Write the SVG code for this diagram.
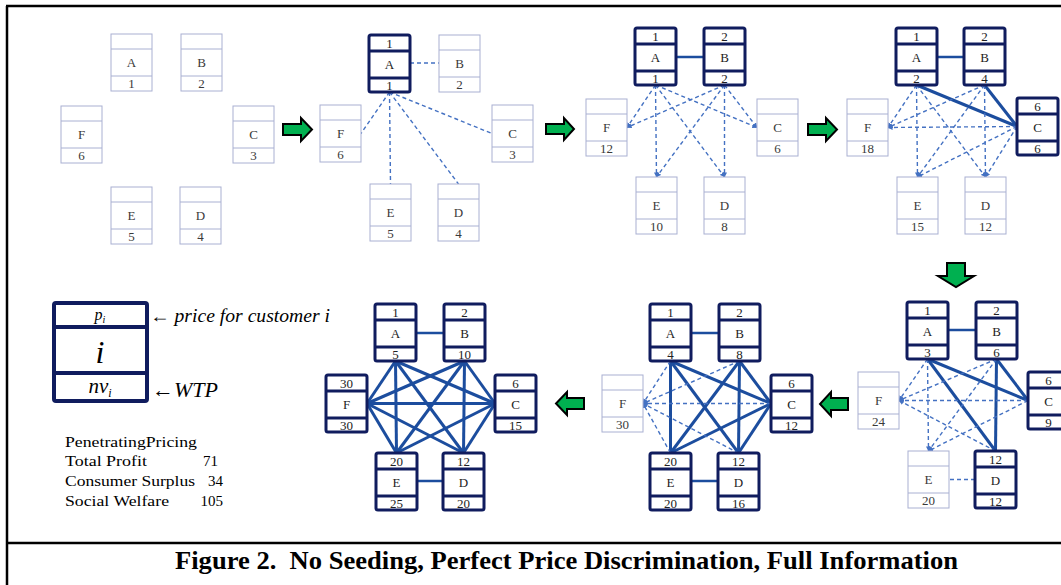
<svg xmlns="http://www.w3.org/2000/svg" width="1061" height="585" viewBox="0 0 1061 585">
  <defs>
    <style>
      .frame { stroke: #000; stroke-width: 2.5; fill: none; }
      .lt > use { fill: #fff; stroke: #a9b0d2; stroke-width: 1; }
      .dk > use { fill: #fff; stroke: #101c5e; stroke-width: 3; }
      .nt { font-family: "Liberation Serif", "Times New Roman", serif; font-size: 13px; fill: #3a3a3a; text-anchor: middle; }
      .dk .nt { fill: #222; }
      .solid { stroke: #1c4d9e; stroke-width: 3; fill: none; }
      .thin { stroke: #1c4d9e; stroke-width: 2.5; fill: none; }
      .dash { stroke: #4471c2; stroke-width: 1.4; stroke-dasharray: 4 3; fill: none; }
      .arw { stroke: #4471c2; stroke-width: 1.4; stroke-dasharray: 4 3; fill: none; marker-end: url(#tip); }
      .go { fill: #00b050; stroke: #000; stroke-width: 2; stroke-linejoin: miter; }
      .serif { font-family: "Liberation Serif", "Times New Roman", serif; fill: #000; }
    </style>
    <marker id="tip" viewBox="0 0 6 6" refX="5.5" refY="3" markerWidth="5" markerHeight="5" orient="auto" markerUnits="userSpaceOnUse">
      <path d="M0,0 L6,3 L0,6 z" fill="#4471c2" stroke="none"/>
    </marker>
    <!-- light (non-buying) customer box: 41 x 57, rows at 15 / 42 -->
    <g id="boxL">
      <rect x="0" y="0" width="41" height="57"/>
      <line x1="0" y1="15" x2="41" y2="15"/>
      <line x1="0" y1="42" x2="41" y2="42"/>
    </g>
    <!-- dark (buying) customer box -->
    <g id="boxD">
      <rect x="0" y="0" width="41" height="57" rx="2"/>
      <line x1="0" y1="16" x2="41" y2="16"/>
      <line x1="0" y1="43" x2="41" y2="43"/>
    </g>
  </defs>

  <rect width="1061" height="585" fill="#fff"/>

  <!-- outer frame and caption rule -->
  <g id="frame">
    <line class="frame" x1="6" y1="6" x2="1061" y2="6"/>
    <line class="frame" x1="7" y1="6" x2="7" y2="585"/>
    <line class="frame" x1="7" y1="543" x2="1061" y2="543"/>
  </g>

  <!-- connectors -->
  <g id="connectors">
    <!-- stage 2 -->
    <line class="dash" x1="410" y1="63" x2="439" y2="63"/>
    <line class="dash" x1="389.5" y1="92" x2="361" y2="133.5"/>
    <line class="dash" x1="389.5" y1="92" x2="492" y2="133.5"/>
    <line class="dash" x1="389.5" y1="92" x2="390.5" y2="184"/>
    <line class="dash" x1="389.5" y1="92" x2="458.5" y2="184"/>

    <!-- stage 3 -->
    <line class="thin" x1="676" y1="57" x2="704" y2="57"/>
    <line class="arw" x1="655.5" y1="85" x2="627" y2="127.5"/>
    <line class="arw" x1="655.5" y1="85" x2="757" y2="127.5"/>
    <line class="arw" x1="655.5" y1="85" x2="656.5" y2="177"/>
    <line class="arw" x1="655.5" y1="85" x2="724.5" y2="177"/>
    <line class="arw" x1="724.5" y1="85" x2="627" y2="127.5"/>
    <line class="arw" x1="724.5" y1="85" x2="757" y2="127.5"/>
    <line class="arw" x1="724.5" y1="85" x2="656.5" y2="177"/>
    <line class="arw" x1="724.5" y1="85" x2="724.5" y2="177"/>

    <!-- stage 4 -->
    <line class="thin" x1="937" y1="57" x2="964" y2="57"/>
    <line class="solid" x1="916.5" y1="85" x2="1017" y2="126.5"/>
    <line class="solid" x1="984.5" y1="85" x2="1017" y2="126.5"/>
    <line class="arw" x1="916.5" y1="85" x2="888" y2="127.5"/>
    <line class="arw" x1="916.5" y1="85" x2="917.5" y2="177"/>
    <line class="arw" x1="916.5" y1="85" x2="985.5" y2="177"/>
    <line class="arw" x1="984.5" y1="85" x2="888" y2="127.5"/>
    <line class="arw" x1="984.5" y1="85" x2="917.5" y2="177"/>
    <line class="arw" x1="984.5" y1="85" x2="985.5" y2="177"/>
    <line class="arw" x1="1017" y1="126.5" x2="888" y2="127.5"/>
    <line class="arw" x1="1017" y1="126.5" x2="917.5" y2="177"/>
    <line class="arw" x1="1017" y1="126.5" x2="985.5" y2="177"/>

    <!-- stage 5 -->
    <line class="thin" x1="948" y1="330" x2="976" y2="330"/>
    <line class="solid" x1="927.5" y1="359" x2="1028" y2="400.5"/>
    <line class="solid" x1="927.5" y1="359" x2="995.5" y2="451"/>
    <line class="solid" x1="996.5" y1="359" x2="1028" y2="400.5"/>
    <line class="solid" x1="996.5" y1="359" x2="995.5" y2="451"/>
    <line class="arw" x1="927.5" y1="359" x2="899" y2="400.5"/>
    <line class="arw" x1="996.5" y1="359" x2="899" y2="400.5"/>
    <line class="arw" x1="1028" y1="400.5" x2="899" y2="400.5"/>
    <line class="arw" x1="995.5" y1="451" x2="899" y2="400.5"/>
    <line class="arw" x1="927.5" y1="359" x2="928.5" y2="451"/>
    <line class="arw" x1="996.5" y1="359" x2="928.5" y2="451"/>
    <line class="arw" x1="1028" y1="400.5" x2="928.5" y2="451"/>
    <line class="dash" x1="975" y1="479.5" x2="949" y2="479.5"/>

    <!-- stage 6 -->
    <line class="thin" x1="691" y1="333" x2="719" y2="333"/>
    <line class="thin" x1="691" y1="481" x2="718" y2="481"/>
    <line class="solid" x1="670.5" y1="361" x2="670.5" y2="453"/>
    <line class="solid" x1="670.5" y1="361" x2="738.5" y2="453"/>
    <line class="solid" x1="670.5" y1="361" x2="771" y2="403.5"/>
    <line class="solid" x1="739.5" y1="361" x2="670.5" y2="453"/>
    <line class="solid" x1="739.5" y1="361" x2="738.5" y2="453"/>
    <line class="solid" x1="739.5" y1="361" x2="771" y2="403.5"/>
    <line class="solid" x1="771" y1="403.5" x2="670.5" y2="453"/>
    <line class="solid" x1="771" y1="403.5" x2="738.5" y2="453"/>
    <line class="arw" x1="670.5" y1="361" x2="643" y2="403.5"/>
    <line class="arw" x1="739.5" y1="361" x2="643" y2="403.5"/>
    <line class="arw" x1="771" y1="403.5" x2="643" y2="403.5"/>
    <line class="arw" x1="670.5" y1="453" x2="643" y2="403.5"/>
    <line class="arw" x1="738.5" y1="453" x2="643" y2="403.5"/>

    <!-- stage 7 -->
    <line class="thin" x1="416" y1="333" x2="444" y2="333"/>
    <line class="thin" x1="417" y1="481" x2="443" y2="481"/>
    <line class="solid" x1="395.5" y1="361" x2="367" y2="403.5"/>
    <line class="solid" x1="395.5" y1="361" x2="495" y2="403.5"/>
    <line class="solid" x1="395.5" y1="361" x2="396.5" y2="453"/>
    <line class="solid" x1="395.5" y1="361" x2="463.5" y2="453"/>
    <line class="solid" x1="464.5" y1="361" x2="367" y2="403.5"/>
    <line class="solid" x1="464.5" y1="361" x2="495" y2="403.5"/>
    <line class="solid" x1="464.5" y1="361" x2="396.5" y2="453"/>
    <line class="solid" x1="464.5" y1="361" x2="463.5" y2="453"/>
    <line class="solid" x1="367" y1="403.5" x2="495" y2="403.5"/>
    <line class="solid" x1="367" y1="403.5" x2="396.5" y2="453"/>
    <line class="solid" x1="367" y1="403.5" x2="463.5" y2="453"/>
    <line class="solid" x1="495" y1="403.5" x2="396.5" y2="453"/>
    <line class="solid" x1="495" y1="403.5" x2="463.5" y2="453"/>
  </g>

  <!-- stage arrows -->
  <g id="stage-arrows">
    <polygon class="go" points="283,124 301,124 301,118 312,129.5 301,141 301,135 283,135"/>
    <polygon class="go" points="546,124 564,124 564,118 574,129 564,140 564,134 546,134"/>
    <polygon class="go" points="808,124 826,124 826,118 837,129.5 826,141 826,135 808,135"/>
    <polygon class="go" points="947,263 965,263 965,276 974,276 956,287 938,276 947,276"/>
    <polygon class="go" points="848,398 831,398 831,392 820,404 831,416 831,410 848,410"/>
    <polygon class="go" points="584,398 567,398 567,392 556,403.5 567,415 567,409 584,409"/>
  </g>

  <!-- stage 1 -->
  <g id="s1-A" class="lt" transform="translate(111,34)"><use href="#boxL"/><text class="nt" x="20.5" y="33">A</text><text class="nt" x="20.5" y="54">1</text></g>
  <g id="s1-B" class="lt" transform="translate(181,34)"><use href="#boxL"/><text class="nt" x="20.5" y="33">B</text><text class="nt" x="20.5" y="54">2</text></g>
  <g id="s1-F" class="lt" transform="translate(61,106)"><use href="#boxL"/><text class="nt" x="20.5" y="33">F</text><text class="nt" x="20.5" y="54">6</text></g>
  <g id="s1-C" class="lt" transform="translate(233,106)"><use href="#boxL"/><text class="nt" x="20.5" y="33">C</text><text class="nt" x="20.5" y="54">3</text></g>
  <g id="s1-E" class="lt" transform="translate(111,187)"><use href="#boxL"/><text class="nt" x="20.5" y="33">E</text><text class="nt" x="20.5" y="54">5</text></g>
  <g id="s1-D" class="lt" transform="translate(180,187)"><use href="#boxL"/><text class="nt" x="20.5" y="33">D</text><text class="nt" x="20.5" y="54">4</text></g>

  <!-- stage 2 -->
  <g id="s2-A" class="dk" transform="translate(369,35)"><use href="#boxD"/><text class="nt" x="20.5" y="13">1</text><text class="nt" x="20.5" y="34">A</text><text class="nt" x="20.5" y="55">1</text></g>
  <g id="s2-B" class="lt" transform="translate(439,35)"><use href="#boxL"/><text class="nt" x="20.5" y="33">B</text><text class="nt" x="20.5" y="54">2</text></g>
  <g id="s2-F" class="lt" transform="translate(320,105)"><use href="#boxL"/><text class="nt" x="20.5" y="33">F</text><text class="nt" x="20.5" y="54">6</text></g>
  <g id="s2-C" class="lt" transform="translate(492,105)"><use href="#boxL"/><text class="nt" x="20.5" y="33">C</text><text class="nt" x="20.5" y="54">3</text></g>
  <g id="s2-E" class="lt" transform="translate(370,184)"><use href="#boxL"/><text class="nt" x="20.5" y="33">E</text><text class="nt" x="20.5" y="54">5</text></g>
  <g id="s2-D" class="lt" transform="translate(438,184)"><use href="#boxL"/><text class="nt" x="20.5" y="33">D</text><text class="nt" x="20.5" y="54">4</text></g>

  <!-- stage 3 -->
  <g id="s3-A" class="dk" transform="translate(635,28)"><use href="#boxD"/><text class="nt" x="20.5" y="13">1</text><text class="nt" x="20.5" y="34">A</text><text class="nt" x="20.5" y="55">1</text></g>
  <g id="s3-B" class="dk" transform="translate(704,28)"><use href="#boxD"/><text class="nt" x="20.5" y="13">2</text><text class="nt" x="20.5" y="34">B</text><text class="nt" x="20.5" y="55">2</text></g>
  <g id="s3-F" class="lt" transform="translate(586,99)"><use href="#boxL"/><text class="nt" x="20.5" y="33">F</text><text class="nt" x="20.5" y="54">12</text></g>
  <g id="s3-C" class="lt" transform="translate(757,99)"><use href="#boxL"/><text class="nt" x="20.5" y="33">C</text><text class="nt" x="20.5" y="54">6</text></g>
  <g id="s3-E" class="lt" transform="translate(636,177)"><use href="#boxL"/><text class="nt" x="20.5" y="33">E</text><text class="nt" x="20.5" y="54">10</text></g>
  <g id="s3-D" class="lt" transform="translate(704,177)"><use href="#boxL"/><text class="nt" x="20.5" y="33">D</text><text class="nt" x="20.5" y="54">8</text></g>

  <!-- stage 4 -->
  <g id="s4-A" class="dk" transform="translate(896,28)"><use href="#boxD"/><text class="nt" x="20.5" y="13">1</text><text class="nt" x="20.5" y="34">A</text><text class="nt" x="20.5" y="55">2</text></g>
  <g id="s4-B" class="dk" transform="translate(964,28)"><use href="#boxD"/><text class="nt" x="20.5" y="13">2</text><text class="nt" x="20.5" y="34">B</text><text class="nt" x="20.5" y="55">4</text></g>
  <g id="s4-F" class="lt" transform="translate(847,99)"><use href="#boxL"/><text class="nt" x="20.5" y="33">F</text><text class="nt" x="20.5" y="54">18</text></g>
  <g id="s4-C" class="dk" transform="translate(1017,98)"><use href="#boxD"/><text class="nt" x="20.5" y="13">6</text><text class="nt" x="20.5" y="34">C</text><text class="nt" x="20.5" y="55">6</text></g>
  <g id="s4-E" class="lt" transform="translate(897,177)"><use href="#boxL"/><text class="nt" x="20.5" y="33">E</text><text class="nt" x="20.5" y="54">15</text></g>
  <g id="s4-D" class="lt" transform="translate(965,177)"><use href="#boxL"/><text class="nt" x="20.5" y="33">D</text><text class="nt" x="20.5" y="54">12</text></g>

  <!-- stage 5 -->
  <g id="s5-A" class="dk" transform="translate(907,302)"><use href="#boxD"/><text class="nt" x="20.5" y="13">1</text><text class="nt" x="20.5" y="34">A</text><text class="nt" x="20.5" y="55">3</text></g>
  <g id="s5-B" class="dk" transform="translate(976,302)"><use href="#boxD"/><text class="nt" x="20.5" y="13">2</text><text class="nt" x="20.5" y="34">B</text><text class="nt" x="20.5" y="55">6</text></g>
  <g id="s5-F" class="lt" transform="translate(858,372)"><use href="#boxL"/><text class="nt" x="20.5" y="33">F</text><text class="nt" x="20.5" y="54">24</text></g>
  <g id="s5-C" class="dk" transform="translate(1028,372)"><use href="#boxD"/><text class="nt" x="20.5" y="13">6</text><text class="nt" x="20.5" y="34">C</text><text class="nt" x="20.5" y="55">9</text></g>
  <g id="s5-E" class="lt" transform="translate(908,451)"><use href="#boxL"/><text class="nt" x="20.5" y="33">E</text><text class="nt" x="20.5" y="54">20</text></g>
  <g id="s5-D" class="dk" transform="translate(975,451)"><use href="#boxD"/><text class="nt" x="20.5" y="13">12</text><text class="nt" x="20.5" y="34">D</text><text class="nt" x="20.5" y="55">12</text></g>

  <!-- stage 6 -->
  <g id="s6-A" class="dk" transform="translate(650,304)"><use href="#boxD"/><text class="nt" x="20.5" y="13">1</text><text class="nt" x="20.5" y="34">A</text><text class="nt" x="20.5" y="55">4</text></g>
  <g id="s6-B" class="dk" transform="translate(719,304)"><use href="#boxD"/><text class="nt" x="20.5" y="13">2</text><text class="nt" x="20.5" y="34">B</text><text class="nt" x="20.5" y="55">8</text></g>
  <g id="s6-F" class="lt" transform="translate(602,375)"><use href="#boxL"/><text class="nt" x="20.5" y="33">F</text><text class="nt" x="20.5" y="54">30</text></g>
  <g id="s6-C" class="dk" transform="translate(771,375)"><use href="#boxD"/><text class="nt" x="20.5" y="13">6</text><text class="nt" x="20.5" y="34">C</text><text class="nt" x="20.5" y="55">12</text></g>
  <g id="s6-E" class="dk" transform="translate(650,453)"><use href="#boxD"/><text class="nt" x="20.5" y="13">20</text><text class="nt" x="20.5" y="34">E</text><text class="nt" x="20.5" y="55">20</text></g>
  <g id="s6-D" class="dk" transform="translate(718,453)"><use href="#boxD"/><text class="nt" x="20.5" y="13">12</text><text class="nt" x="20.5" y="34">D</text><text class="nt" x="20.5" y="55">16</text></g>

  <!-- stage 7 -->
  <g id="s7-A" class="dk" transform="translate(375,304)"><use href="#boxD"/><text class="nt" x="20.5" y="13">1</text><text class="nt" x="20.5" y="34">A</text><text class="nt" x="20.5" y="55">5</text></g>
  <g id="s7-B" class="dk" transform="translate(444,304)"><use href="#boxD"/><text class="nt" x="20.5" y="13">2</text><text class="nt" x="20.5" y="34">B</text><text class="nt" x="20.5" y="55">10</text></g>
  <g id="s7-F" class="dk" transform="translate(326,375)"><use href="#boxD"/><text class="nt" x="20.5" y="13">30</text><text class="nt" x="20.5" y="34">F</text><text class="nt" x="20.5" y="55">30</text></g>
  <g id="s7-C" class="dk" transform="translate(495,375)"><use href="#boxD"/><text class="nt" x="20.5" y="13">6</text><text class="nt" x="20.5" y="34">C</text><text class="nt" x="20.5" y="55">15</text></g>
  <g id="s7-E" class="dk" transform="translate(376,453)"><use href="#boxD"/><text class="nt" x="20.5" y="13">20</text><text class="nt" x="20.5" y="34">E</text><text class="nt" x="20.5" y="55">25</text></g>
  <g id="s7-D" class="dk" transform="translate(443,453)"><use href="#boxD"/><text class="nt" x="20.5" y="13">12</text><text class="nt" x="20.5" y="34">D</text><text class="nt" x="20.5" y="55">20</text></g>

  <!-- legend -->
  <g id="legend">
    <rect x="54" y="303" width="93" height="98" rx="2" fill="#fff" stroke="#101c5e" stroke-width="4"/>
    <line x1="54" y1="327" x2="147" y2="327" stroke="#101c5e" stroke-width="4"/>
    <line x1="54" y1="373" x2="147" y2="373" stroke="#101c5e" stroke-width="4"/>
    <text class="serif" x="100" y="320" font-size="16" font-style="italic" text-anchor="middle">p<tspan font-size="10" dy="3">i</tspan></text>
    <text class="serif" x="100" y="363" font-size="32" font-style="italic" text-anchor="middle">i</text>
    <text class="serif" x="100" y="393" font-size="21" font-style="italic" text-anchor="middle">nv<tspan font-size="12" dy="4">i</tspan></text>
    <text class="serif" x="150" y="322" font-size="18" font-style="italic" textLength="180" lengthAdjust="spacingAndGlyphs">← price for customer i</text>
    <text class="serif" x="152" y="397" font-size="22" font-style="italic">←WTP</text>
  </g>

  <!-- results -->
  <g id="results" class="serif" font-size="15">
    <text x="65" y="447" textLength="132" lengthAdjust="spacingAndGlyphs">PenetratingPricing</text>
    <text x="65" y="466" textLength="82" lengthAdjust="spacingAndGlyphs">Total Profit</text>
    <text x="218" y="466" text-anchor="end">71</text>
    <text x="65" y="486" textLength="130" lengthAdjust="spacingAndGlyphs">Consumer Surplus</text>
    <text x="223" y="486" text-anchor="end">34</text>
    <text x="65" y="506" textLength="104" lengthAdjust="spacingAndGlyphs">Social Welfare</text>
    <text x="223" y="506" text-anchor="end">105</text>
  </g>

  <!-- caption -->
  <text id="caption" class="serif" x="175" y="569" font-size="25" font-weight="bold" textLength="783" lengthAdjust="spacingAndGlyphs">Figure 2.&#160; No Seeding, Perfect Price Discrimination, Full Information</text>
</svg>
